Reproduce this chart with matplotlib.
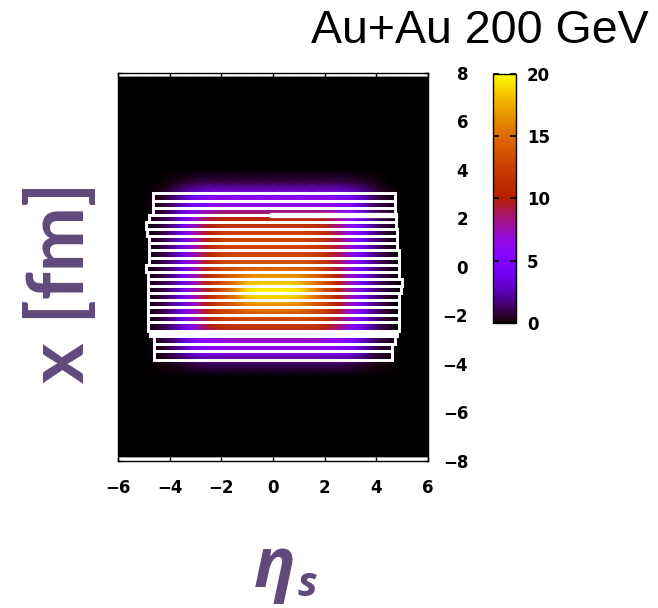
import numpy as np
import matplotlib.pyplot as plt

# energy density grid: columns are eta_s, rows are x [fm] (top row first)
eta_s = [-5.0, -4.5, -4.0, -3.5, -3.0, -2.5, -2.0, -1.5, -1.0, -0.5, 0.0,
         0.5, 1.0, 1.5, 2.0, 2.5, 3.0, 3.5, 4.0, 4.5, 5.0]
x_fm = [4.0, 3.5, 3.0, 2.5, 2.0, 1.5, 1.0, 0.5, 0.0, -0.5, -1.0, -1.5, -2.0,
        -2.5, -3.0, -3.5, -4.0, -4.5]
edens = [
    [0] * 21,
    [0, 0, 0.2, 0.5, 0.8, 1, 1, 1, 1, 1, 1, 1, 1, 1, 1, 1, 0.8, 0.5, 0.2, 0, 0],
    [0, 0.3, 1, 2.5, 4, 5, 5.5, 5.5, 5.5, 5.5, 5.5, 5.5, 5.5, 5.5, 5.5, 5, 4, 2.5, 1, 0.3, 0],
    [0, 0.4, 1.2, 3, 5, 6, 6.5, 6.5, 6.5, 6.5, 6.5, 6.5, 6.5, 6.5, 6.5, 6, 5, 3, 1.2, 0.4, 0],
    [0, 0.5, 1.5, 4, 7, 9, 10.5, 10.5, 10.5, 10.5, 10.5, 10.5, 10.5, 10.5, 9.5, 8, 6, 3.5, 1.5, 0.5, 0],
    [0, 0.5, 1.5, 4, 7.5, 10, 12, 12.5, 12.5, 12.5, 12.5, 12.5, 12.5, 12, 11, 8.5, 6, 4, 1.5, 0.5, 0],
    [0, 0.5, 1.5, 4, 7.5, 10.5, 12.5, 13, 13, 13, 13, 13, 13, 12.5, 11.5, 9, 6.5, 4, 1.5, 0.5, 0],
    [0, 0.5, 1.5, 4, 7.5, 10.5, 12.5, 13, 13, 13, 13, 13, 13, 12.5, 11.5, 9, 6.5, 4, 1.5, 0.5, 0],
    [0, 0.5, 1.5, 4, 7.5, 11, 13, 13.5, 14, 14, 14, 14, 14, 13.5, 12, 9, 6.5, 4, 1.5, 0.5, 0],
    [0, 0.5, 1.5, 4, 7.5, 11, 13.5, 15, 17, 17.5, 17.5, 17.5, 17, 15.5, 13.5, 10, 7, 4, 1.5, 0.5, 0],
    [0, 0.5, 1.5, 4, 7.5, 10.5, 13.5, 16, 19.5, 20, 20, 20, 19.5, 17, 13.5, 11, 7.5, 4, 1.5, 0.5, 0],
    [0, 0.5, 1.5, 4, 7.5, 10.5, 13, 14.5, 16.5, 17, 17, 17, 16.5, 14.5, 13, 10, 7, 4, 1.5, 0.5, 0],
    [0, 0.5, 1.5, 4, 7.5, 10.5, 12.5, 13, 13.5, 13.5, 13.5, 13.5, 13.5, 13, 12, 9.5, 6.5, 4, 1.5, 0.5, 0],
    [0, 0.5, 1.5, 3.5, 6.5, 9.5, 11, 11.5, 11.5, 11.5, 11.5, 11.5, 11.5, 11.5, 10.5, 8.5, 6, 3.5, 1.5, 0.5, 0],
    [0, 0.4, 1.2, 3, 5, 6, 6.5, 7, 7, 7, 7, 7, 7, 7, 6.5, 6, 5, 3, 1.2, 0.4, 0],
    [0, 0.3, 1, 2.5, 4.5, 5.5, 5.5, 6, 6, 6, 6, 6, 6, 6, 5.5, 5.5, 4.5, 2.5, 1, 0.3, 0],
    [0, 0.1, 0.3, 0.6, 1, 1.2, 1.2, 1.2, 1.2, 1.2, 1.2, 1.2, 1.2, 1.2, 1.2, 1.2, 1, 0.6, 0.3, 0.1, 0],
    [0] * 21,
]

# white contour stripes: boundary levels in x, and eta_s ends of each stripe
line_levels = [3.04, 2.73, 2.43, 2.14, 1.84, 1.55, 1.26, 0.97, 0.68, 0.39, 0.09,
               -0.20, -0.49, -0.78, -1.08, -1.38, -1.67, -1.98, -2.28, -2.62,
               -2.84, -3.17, -3.48, -3.82]
stripe_left = [-4.63, -4.63, -4.63, -4.78, -4.92, -4.88, -4.80, -4.80, -4.80,
               -4.80, -4.92, -4.82, -4.82, -4.82, -4.82, -4.82, -4.82, -4.82,
               -4.82, -4.75, -4.60, -4.60, -4.60]
stripe_right = [4.72, 4.72, 4.72, 4.78, 4.78, 4.82, 4.82, 4.82, 4.86, 4.86,
                4.86, 4.86, 4.99, 4.95, 4.86, 4.86, 4.86, 4.86, 4.86, 4.82,
                4.72, 4.62, 4.62]
closed_stripes = [19]
thick_level = 2.14
thick_eta = [-0.05, 4.72]

xticks = [-6, -4, -2, 0, 2, 4, 6]
yticks = [-8, -6, -4, -2, 0, 2, 4, 6, 8]
cticks = [0, 5, 10, 15, 20]

purple = '#604a7b'
tickfont = dict(family='DejaVu Sans', weight='bold', size=12)


def fmt(v):
    return str(v).replace('-', '\u2212')


fig = plt.figure(figsize=(6.58, 6.08), dpi=100)
ax = fig.add_axes([0.1793, 0.2418, 0.4711, 0.6382])
cax = fig.add_axes([0.7492, 0.4688, 0.035, 0.4095])

# pad the grid with zeros out to the plotted window
img_top = 7.83
eta_full = np.concatenate([[-6.0], eta_s, [6.0]])
x_full = np.concatenate([[-img_top], x_fm[::-1], [img_top]])
z = np.array(edens, dtype=float)[::-1]
z = np.pad(z, 1)
E, X = np.meshgrid(eta_full, x_full)
mesh = ax.pcolormesh(E, X, z, cmap='gnuplot', vmin=0, vmax=20, shading='gouraud')

for k in range(len(stripe_left)):
    top, bot = line_levels[k], line_levels[k + 1]
    L, R = stripe_left[k], stripe_right[k]
    if k in closed_stripes:
        ax.fill([L, R, R, L], [top, top, bot, bot], color='white', lw=0)
    ax.plot([L, R, R, L, L], [top, top, bot, bot, top], color='white',
            lw=2.1, solid_joinstyle='miter')
ax.plot(thick_eta, [thick_level, thick_level], color='white', lw=3.8)

ax.set_xlim(-6, 6)
ax.set_ylim(-8, 8)
ax.set_facecolor('white')
for s in ax.spines.values():
    s.set_linewidth(1.0)
    s.set_zorder(5)

ax.set_xticks(xticks)
ax.set_xticklabels([fmt(t) for t in xticks], fontdict=tickfont)
ax.tick_params(axis='x', direction='in', top=True, bottom=True, length=3,
               width=1, pad=13)
ax.yaxis.tick_right()
ax.set_yticks(yticks)
ax.set_yticklabels([fmt(t) for t in yticks], fontdict=tickfont)
ax.tick_params(axis='y', direction='in', left=True, right=True, length=3,
               width=1, pad=29)
for lab in ax.get_yticklabels():
    lab.set_ha('right')

cb = fig.colorbar(mesh, cax=cax, ticks=cticks)
cb.outline.set_linewidth(1.0)
cax.tick_params(axis='y', direction='in', left=True, right=True, length=4,
                width=1.2, pad=8)
cax.set_yticklabels([fmt(t) for t in cticks], fontdict=tickfont)

fig.text(0.985, 0.93, 'Au+Au 200 GeV', ha='right', va='baseline',
         family='Liberation Sans', fontsize=33.5)
fig.text(0.093, 0.535, 'x [fm]', rotation=90, ha='center', va='center',
         family='Lato', weight='bold', fontsize=56, color=purple)
fig.text(0.385, 0.035, 'η', ha='left', va='baseline', family='Open Sans',
         weight='bold', style='italic', fontsize=50, color=purple)
fig.text(0.452, 0.02, 's', ha='left', va='baseline', family='Open Sans',
         weight='bold', style='italic', fontsize=30, color=purple)

fig.savefig('out.png', dpi=100)
